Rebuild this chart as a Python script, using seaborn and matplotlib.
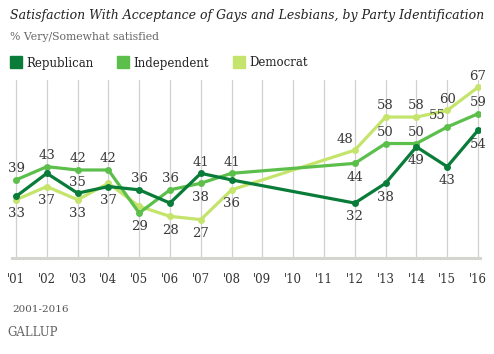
import matplotlib
matplotlib.use("Agg")
import matplotlib.pyplot as plt
from matplotlib.lines import Line2D
import pandas as pd
import seaborn as sns

years = [2001, 2002, 2003, 2004, 2005, 2006, 2007, 2008, 2012, 2013, 2014, 2015, 2016]
republican = [34, 41, 35, 37, 36, 32, 41, 39, 32, 38, 49, 43, 54]
independent = [39, 43, 42, 42, 29, 36, 38, 41, 44, 50, 50, 55, 59]
democrat = [33, 37, 33, 38, 31, 28, 27, 36, 48, 58, 58, 60, 67]

# where each value label goes: a = above, b = below, al = above-left, '' = none
rep_pos = ['', '', 'a', 'b', 'a', '', 'a', '', 'b', 'b', 'b', 'b', 'b']
ind_pos = ['a', 'a', 'a', 'a', 'b', 'a', 'b', 'a', 'b', 'a', 'a', 'al', 'a']
dem_pos = ['b', 'b', 'b', '', '', 'b', 'b', 'b', 'al', 'a', 'a', 'a', 'a']

tick_years = list(range(2001, 2017))
tick_labels = ["'" + str(y)[2:] for y in tick_years]

parties = ['Republican', 'Independent', 'Democrat']
colors = {'Republican': '#087c38', 'Independent': '#5cbf4c', 'Democrat': '#c4e46c'}

df = pd.DataFrame({
    'year': years * 3,
    'value': republican + independent + democrat,
    'party': ['Republican'] * len(years) + ['Independent'] * len(years) + ['Democrat'] * len(years),
})

sns.set_style('white')
plt.rcParams['font.family'] = ['DejaVu Serif']

fig = plt.figure(figsize=(4.94, 3.54), dpi=100)
ax = fig.add_axes([12 / 494, 1 - 258 / 354, 468 / 494, 178 / 354])

sns.lineplot(data=df, x='year', y='value', hue='party', hue_order=parties[::-1],
             palette=colors, linewidth=2.3, marker='o', markersize=5,
             markeredgewidth=0, legend=False, ax=ax)

ax.set_xlim(2000.87, 2016.065)
ax.set_ylim(15.4, 69.2)
ax.set_xticks(tick_years)
ax.set_xticklabels(tick_labels, fontsize=8.5, color='#333333')
ax.set_yticks([])
ax.set_xlabel('')
ax.set_ylabel('')
ax.tick_params(axis='x', length=0, pad=11)
ax.grid(axis='x', color='#d0d0d0', linewidth=0.9)
for s in ['top', 'right', 'left']:
    ax.spines[s].set_visible(False)
ax.spines['bottom'].set_color('#d5d5d0')
ax.spines['bottom'].set_linewidth(2.2)

offsets = {'a': (0, 8), 'b': (0, -10), 'al': (-7, 8)}
for vals, pos in [(republican, rep_pos), (independent, ind_pos), (democrat, dem_pos)]:
    for x, v, p in zip(years, vals, pos):
        if p:
            ax.annotate(str(v), (x, v), xytext=offsets[p], textcoords='offset points',
                        ha='center', va='center', fontsize=9.5, color='#3a3a3a',
                        annotation_clip=False)

fig.text(10 / 494, 1 - 15 / 354, 'Satisfaction With Acceptance of Gays and Lesbians, by Party Identification',
         fontsize=9.0, style='italic', color='#222222', va='center')
fig.text(10 / 494, 1 - 37 / 354, '% Very/Somewhat satisfied', fontsize=7.8, color='#666666', va='center')

handles = [Line2D([], [], linestyle='none', marker='s', markersize=9, color=colors[p]) for p in parties]
fig.legend(handles, parties, loc='center left', bbox_to_anchor=(-2 / 494, 1 - 63 / 354),
           ncol=3, frameon=False, fontsize=8.5, handletextpad=0.3, columnspacing=1.9,
           handlelength=1.2, labelcolor='#222222')

fig.text(12 / 494, 1 - 310 / 354, '2001-2016', fontsize=7.5, color='#555555', va='center')
fig.text(7 / 494, 1 - 333 / 354, 'GALLUP', fontsize=8.5, color='#666666', va='center')

fig.savefig('out.png', dpi=100)
